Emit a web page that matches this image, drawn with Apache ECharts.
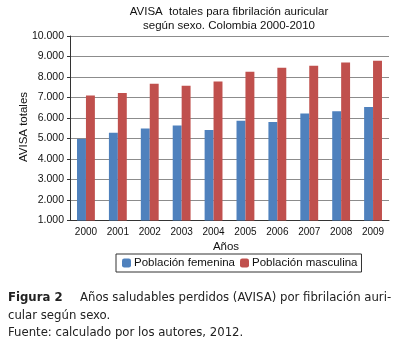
<!DOCTYPE html>
<html>
<head>
<meta charset="UTF-8">
<title>AVISA fibrilación auricular</title>
<style>
body {
    margin: 0;
    padding: 0;
    background: #fff;
}
#main {
    width: 408px;
    height: 347px;
}
</style>
</head>
<body>
<div id="main"></div>
<script src="https://cdn.jsdelivr.net/npm/echarts@6/dist/echarts.min.js"></script>
<script>
var years = ['2000','2001','2002','2003','2004','2005','2006','2007','2008','2009'];
var femenina = [4980, 5280, 5490, 5630, 5410, 5860, 5805, 6215, 6330, 6535];
var masculina = [7100, 7215, 7665, 7570, 7780, 8260, 8450, 8550, 8710, 8790];

var chart = echarts.init(document.getElementById('main'));

function fmtMiles(v) {
    return String(v).replace(/\B(?=(\d{3})+(?!\d))/g, '.') ;
}

var capFont = '13px "DejaVu Sans Condensed", "DejaVu Sans"';
var axFont = '11.5px "Liberation Sans"';

var option = {
    backgroundColor: '#fff',
    animation: false,
    textStyle: { fontFamily: 'Liberation Sans' },
    legend: {
        left: 116,
        top: 254,
        itemWidth: 9,
        itemHeight: 9,
        itemGap: 5,
        padding: [3, 4, 3, 6],
        borderColor: '#333',
        borderWidth: 1,
        textStyle: { fontSize: 11.5, color: '#111', padding: [0, 0, 0, -2] },
        data: ['Población femenina', 'Población masculina']
    },
    grid: { left: 70, right: 19, top: 36, bottom: 126.5 },
    xAxis: {
        type: 'category',
        data: years,
        axisLine: { lineStyle: { color: '#333' } },
        axisTick: { show: false },
        axisLabel: { fontSize: 10, color: '#111', margin: 7 }
    },
    yAxis: {
        type: 'value',
        min: 1000,
        max: 10000,
        interval: 1000,
        axisLine: { show: true, lineStyle: { color: '#333' } },
        axisTick: { show: true, length: 3, lineStyle: { color: '#333' } },
        axisLabel: { fontSize: 10.5, color: '#111', margin: 6, formatter: fmtMiles },
        splitLine: { lineStyle: { color: '#8c8c8c' } }
    },
    series: [
        {
            name: 'Población femenina',
            type: 'bar',
            data: femenina,
            barGap: '0%',
            barCategoryGap: '44%',
            itemStyle: { color: '#4F81BD' }
        },
        {
            name: 'Población masculina',
            type: 'bar',
            data: masculina,
            barGap: '0%',
            barCategoryGap: '44%',
            itemStyle: { color: '#C0504D' }
        }
    ],
    graphic: [
        {
            type: 'text', x: 229, y: 12,
            style: { text: 'AVISA  totales para fibrilación auricular', font: axFont, fill: '#111', align: 'center', verticalAlign: 'middle' }
        },
        {
            type: 'text', x: 229, y: 25.5,
            style: { text: 'según sexo. Colombia 2000-2010', font: axFont, fill: '#111', align: 'center', verticalAlign: 'middle' }
        },
        // axis names
        {
            type: 'text', x: 24, y: 127, rotation: Math.PI / 2,
            style: { text: 'AVISA totales', font: axFont, fill: '#111', align: 'center', verticalAlign: 'middle' }
        },
        {
            type: 'text', x: 226, y: 246.5,
            style: { text: 'Años', font: axFont, fill: '#111', align: 'center', verticalAlign: 'middle' }
        },
        // pie de figura
        {
            type: 'text', left: 8, top: 291,
            style: { text: 'Figura 2', font: 'bold ' + capFont, fill: '#222' }
        },
        {
            type: 'text', left: 80, top: 291,
            style: { text: 'Años saludables perdidos (AVISA) por fibrilación auri-', font: capFont, fill: '#222' }
        },
        {
            type: 'text', left: 8, top: 309.5,
            style: { text: 'cular según sexo.', font: capFont, fill: '#222' }
        },
        {
            type: 'text', left: 8, top: 326.5,
            style: { text: 'Fuente: calculado por los autores, 2012.', font: capFont, fill: '#222' }
        }
    ]
};

chart.setOption(option);
</script>
</body>
</html>
